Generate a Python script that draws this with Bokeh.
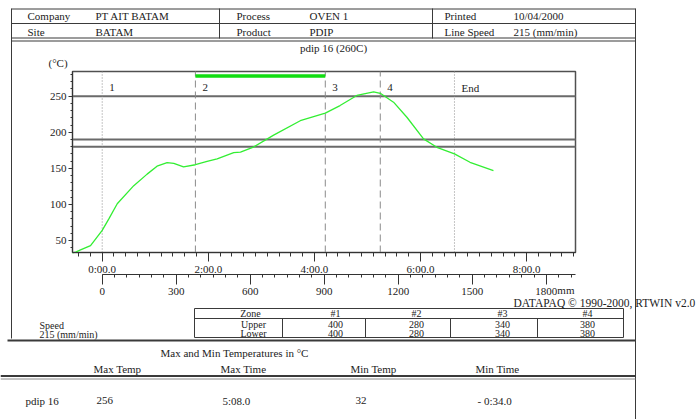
from bokeh.plotting import figure
from bokeh.models import Range1d, LinearAxis, SingleIntervalTicker, CustomJSTickFormatter
from bokeh.embed import file_html
from bokeh.resources import INLINE
from bokeh.core.properties import value

# ---------------- data ----------------
time_s = [-33.6, -30, -24.5, -13.2, 0, 7.5, 17, 35.7, 50.8, 62, 73.4, 81, 92, 105.4, 118.6,
          130, 148.7, 156.4, 171, 193.9, 224, 252.3, 269, 288, 307, 314.5, 329.5, 344.6,
          363.4, 378.5, 398.4, 416, 442.5]
temp_c = [33, 34, 37, 43, 64, 80, 101, 126, 142, 153, 158, 157, 152, 155, 159.6,
          163, 171.8, 172.6, 179.5, 196, 216, 226.5, 237, 251, 256, 254, 241.7, 220.8,
          190.8, 179.2, 170, 158.4, 147]
limit_temps = [250, 190, 180]
zone_names = ["1", "2", "3", "4", "End"]
zone_bounds_s = [0, 105.4, 252.3, 314.5, 398.4]
zone_dash = ["1 2", "7 4", "7 4", "7 4", "1 2"]
bar_zone = (105.4, 252.3)
bar_level = 278
zone_label_level = 262
line_speed = 215  # mm/min
x_lo, x_hi = -33.6, 535.3
y_lo, y_hi = 33.4, 284.2

header_rows = [["Company", "PT AIT BATAM", "Process", "OVEN 1", "Printed", "10/04/2000"],
               ["Site", "BATAM", "Product", "PDIP", "Line Speed", "215 (mm/min)"]]
probe_title = "pdip 16 (260C)"
zone_cols = ["#1", "#2", "#3", "#4"]
upper_set = ["400", "280", "340", "380"]
lower_set = ["400", "280", "340", "380"]
stat_heads = ["Max Temp", "Max Time", "Min Temp", "Min Time"]
stat_vals = ["256", "5:08.0", "32", "- 0:34.0"]
probe_name = "pdip 16"

FONT = "Liberation Serif"
INK = "#222222"
RULE = "#3a3a3a"

# ---------------- page geometry (pixels) ----------------
W, H = 696, 419
PX0, PX1, PY0, PY1 = 72, 575, 71, 252   # chart plot area on the page
MM_AXIS_Y = 273.5                        # page row of the distance axis

kx = (PX1 - PX0) / (x_hi - x_lo)
ky = (PY1 - PY0) / (y_hi - y_lo)
t_range = Range1d(x_lo - PX0 / kx, x_lo + (W - PX0) / kx)
temp_range = Range1d(y_lo - (H - PY1) / ky, y_hi + PY0 / ky)
mm_range = Range1d(t_range.start * line_speed / 60, t_range.end * line_speed / 60)

p = figure(width=W, height=H, output_backend="svg", toolbar_location=None,
           x_range=Range1d(0, W), y_range=Range1d(H, 0),
           x_axis_type=None, y_axis_type=None, min_border=0)
p.outline_line_color = None
p.background_fill_color = "white"
p.border_fill_color = "white"
p.extra_x_ranges = {"t": t_range, "mm": mm_range}
p.extra_y_ranges = {"temp": temp_range}
TT = dict(x_range_name="t", y_range_name="temp")


def style_axis(ax, tick_out, minor_out, standoff):
    ax.axis_line_color = "#333333"
    ax.major_tick_line_color = "#333333"
    ax.minor_tick_line_color = "#333333"
    ax.major_label_text_font = FONT
    ax.major_label_text_font_size = "11px"
    ax.major_label_text_color = INK
    ax.major_tick_in = 0
    ax.minor_tick_in = 0
    ax.major_tick_out = tick_out
    ax.minor_tick_out = minor_out
    ax.major_label_standoff = standoff


yax = LinearAxis(ticker=SingleIntervalTicker(interval=50, num_minor_ticks=5),
                 fixed_location=x_lo, bounds=(y_lo, y_hi), **TT)
style_axis(yax, 4, 2, 2)
p.add_layout(yax, "left")

tax = LinearAxis(ticker=SingleIntervalTicker(interval=120, num_minor_ticks=9),
                 formatter=CustomJSTickFormatter(code="""
const a = Math.abs(tick); const m = Math.floor(a/60); const s = a - m*60;
return (tick < 0 ? "-" : "") + m + ":" + (s < 10 ? "0" : "") + s.toFixed(1);"""),
                 fixed_location=y_lo, bounds=(x_lo, x_hi), **TT)
style_axis(tax, 9, 4, 1)
p.add_layout(tax, "below")

mm_hi = x_hi * line_speed / 60
max_ax = LinearAxis(ticker=SingleIntervalTicker(interval=300, num_minor_ticks=6),
                    x_range_name="mm", y_range_name="temp",
                    fixed_location=y_lo - (MM_AXIS_Y - PY1) / ky, bounds=(0, mm_hi))
style_axis(max_ax, 10, 3, 4)
p.add_layout(max_ax, "below")

# chart frame
p.quad(left=[x_lo], right=[x_hi], bottom=[y_lo], top=[y_hi], fill_color=None,
       line_color="#505050", line_width=1.5, **TT)
# limit lines
p.segment(x0=[x_lo] * len(limit_temps), x1=[x_hi] * len(limit_temps), y0=limit_temps,
          y1=limit_temps, line_color="#6a6a6a", line_width=2, **TT)
# zone boundaries
for b, d in zip(zone_bounds_s, zone_dash):
    p.segment(x0=[b], x1=[b], y0=[y_lo], y1=[y_hi], line_color="#8a8a8a", line_width=1,
              line_dash=d, **TT)
p.text(x=zone_bounds_s, y=[zone_label_level] * len(zone_names), text=zone_names, x_offset=7,
       text_font=value(FONT), text_font_size="11px", text_color=INK, text_baseline="middle",
       **TT)
# zone bar
p.segment(x0=[bar_zone[0]], y0=[bar_level], x1=[bar_zone[1]], y1=[bar_level],
          line_color="#11dd11", line_width=3.5, **TT)
# profile
p.line(time_s, temp_c, line_color="#33ee33", line_width=1.3, **TT)
# "mm" unit after the last distance label
p.text(x=[1800], y=[289], text=["mm"], x_offset=11, x_range_name="mm",
       text_font=value(FONT), text_font_size="11px", text_color=INK, text_baseline="middle")

# ---------------- page decorations (page pixels) ----------------
segs = []   # (x0, y0, x1, y1, width, color)


def rule(x0, y0, x1, y1, w=1.0, c=RULE):
    segs.append((x0, y0, x1, y1, w, c))


texts = []  # (x, y, s, size, align)


def txt(x, y, s, size="11px", align="left"):
    texts.append((x, y, s, size, align))


# header table
rule(11, 8.5, 635, 8.5)
rule(11, 23, 635, 23)
rule(11, 37.5, 635, 37.5, 1.2)
rule(11, 40.5, 635, 40.5, 1.2)
rule(11, 8, 11, 338)
rule(635, 8, 635, 419)
rule(219, 8, 219, 38)
rule(432, 8, 432, 38)
col_x = [27, 95, 236, 309, 444, 513]
for row, yy in zip(header_rows, [15.5, 31]):
    for s, xx in zip(row, col_x):
        txt(xx, yy, s)
txt(333, 47, probe_title, align="center")
txt(48, 62.5, "(°C)")
txt(513, 302, "DATAPAQ © 1990-2000, RTWIN v2.0", "11.5px")

# zone set-point table
rule(194, 308, 623, 308)
rule(194, 318, 623, 318)
rule(194, 337, 623, 337)
rule(194, 308, 194, 337)
rule(623, 308, 623, 337)
for xx in [282, 365, 450, 537]:
    rule(xx, 318, xx, 337)
txt(250, 313, "Zone", "10px", "center")
txt(253, 323.5, "Upper", "10px", "center")
txt(253, 333, "Lower", "10px", "center")
for xx, zc, up, lo in zip([335, 416, 502, 587], zone_cols, upper_set, lower_set):
    txt(xx, 313, zc, "10px", "center")
    txt(xx, 323.5, up, "10px", "center")
    txt(xx, 333, lo, "10px", "center")
txt(39, 325, "Speed", "10px")
txt(39, 334, f"{line_speed} (mm/min)", "10px")
rule(7, 340, 635, 340, 2)

# statistics
txt(160, 352, "Max and Min Temperatures in °C")
for xx, s in zip([93, 220, 350, 475], stat_heads):
    txt(xx, 368, s)
rule(0, 375.5, 635, 375.5, 2)
rule(0, 378.5, 635, 378.5, 1, "#888888")
txt(25, 400, probe_name)
for xx, s in zip([96, 222, 355, 477], stat_vals):
    txt(xx, 400, s)

for x0, y0, x1, y1, w, c in segs:
    p.segment(x0=[x0], y0=[y0], x1=[x1], y1=[y1], line_color=c, line_width=w)
for size in ["10px", "11px", "11.5px"]:
    for align in ["left", "center"]:
        sel = [t for t in texts if t[3] == size and t[4] == align]
        if sel:
            p.text(x=[t[0] for t in sel], y=[t[1] for t in sel], text=[t[2] for t in sel],
                   text_font=value(FONT), text_font_size=size, text_color=INK,
                   text_align=align, text_baseline="middle")

open("out.html", "w").write(file_html(p, INLINE))
